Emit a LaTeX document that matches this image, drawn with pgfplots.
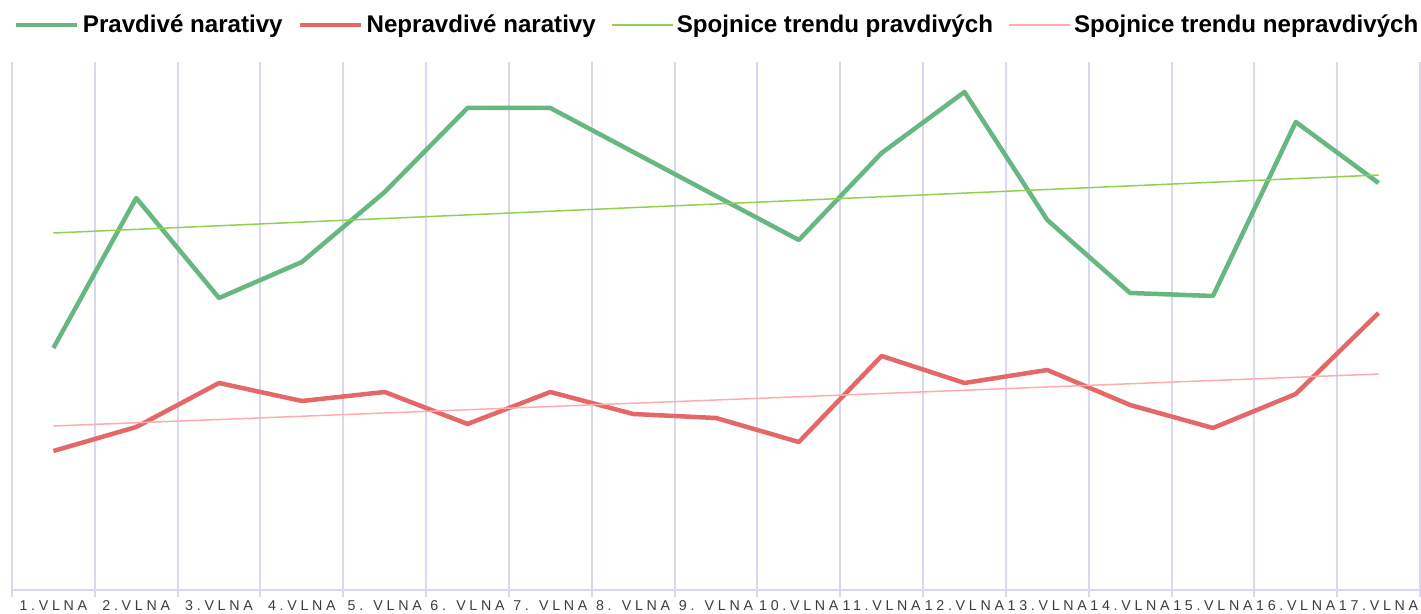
\documentclass[border=0pt]{standalone}
\usepackage{pgfplots}
\pgfplotsset{compat=1.18}
\usepackage{fontspec}
\setmainfont{Liberation Sans}
\newfontfamily\tickfont[LetterSpace=26]{Liberation Sans}
\definecolor{pgreen}{RGB}{102,183,128}
\definecolor{pred}{RGB}{228,104,104}
\definecolor{tgreen}{RGB}{146,208,80}
\definecolor{tred}{RGB}{255,172,172}
\definecolor{gridc}{RGB}{216,216,240}
\definecolor{tickc}{RGB}{60,60,60}
\begin{document}
\begin{tikzpicture}
\useasboundingbox (0,0) rectangle (1421bp,614bp);
\begin{axis}[
  at={(12bp,24bp)}, anchor=south west,
  scale only axis, width=1408bp, height=528bp,
  xmin=0.5, xmax=17.5, ymin=0, ymax=528,
  axis x line*=bottom, axis y line=none,
  xtick={1,...,17},
  xticklabels={1.VLNA,2.VLNA,3.VLNA,4.VLNA,5. VLNA,6. VLNA,7. VLNA,8. VLNA,9. VLNA,10.VLNA,11.VLNA,12.VLNA,13.VLNA,14.VLNA,15.VLNA,16.VLNA,17.VLNA},
  major tick length=0pt,
  minor xtick={0.5,1.5,...,17.5},
  minor tick length=7bp,
  tick align=outside,
  xminorgrids=true,
  minor grid style={gridc, line width=2bp},
  minor tick style={gridc, line width=2bp},
  axis line style={gridc, line width=2bp},
  xticklabel style={font=\tickfont\fontsize{14.3}{16}\selectfont, text=tickc, anchor=base, inner sep=0pt},
  xticklabel shift=21bp,
  clip=false,
  legend columns=4,
  legend cell align=left,
  legend image code/.code={\draw[#1] (0bp,8bp) -- (61bp,8bp);},
  legend style={draw=none, fill=none, inner sep=0pt, outer sep=0pt,
    at={(axis description cs:0.0014,1.089)}, anchor=north west,
    font=\bfseries\fontsize{24.2}{28}\selectfont,
    nodes={inner sep=0pt, text height=18bp, text depth=6bp, anchor=base west},
    /tikz/every odd column/.append style={column sep=3.5bp},
    /tikz/every even column/.append style={column sep=15bp}},
]
\addplot[pgreen, line width=4.5bp, line join=round] coordinates {
 (1,242) (2,392) (3,292) (4,328) (5,398) (6,482) (7,482) (8,438) (9,394)
 (10,350) (11,437) (12,498) (13,370) (14,297) (15,294) (16,468) (17,407)};
\addlegendentry{Pravdivé narativy}
\addplot[pred, line width=4.5bp, line join=round] coordinates {
 (1,139) (2,163) (3,207) (4,189) (5,198) (6,166) (7,198) (8,176) (9,172)
 (10,148) (11,234) (12,207) (13,220) (14,185) (15,162) (16,196) (17,277)};
\addlegendentry{Nepravdivé narativy}
\addplot[tgreen, line width=1.5bp] coordinates {(1,357) (17,415)};
\addlegendentry{Spojnice trendu pravdivých}
\addplot[tred, line width=1.5bp] coordinates {(1,164) (17,216)};
\addlegendentry{Spojnice trendu nepravdivých}
\end{axis}
\end{tikzpicture}
\end{document}
